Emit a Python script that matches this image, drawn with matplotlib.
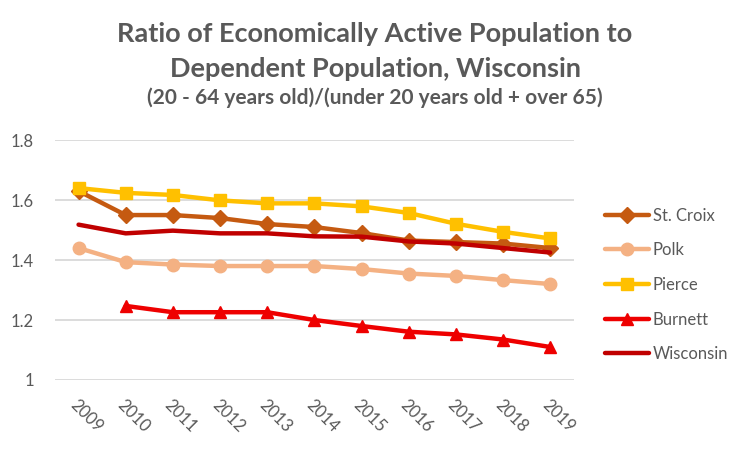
import matplotlib
matplotlib.use("Agg")
import matplotlib.pyplot as plt

years = ["2009", "2010", "2011", "2012", "2013", "2014", "2015", "2016", "2017", "2018", "2019"]
st_croix = [1.63, 1.55, 1.55, 1.54, 1.52, 1.51, 1.49, 1.465, 1.46, 1.455, 1.44]
polk = [1.44, 1.393, 1.385, 1.38, 1.38, 1.38, 1.37, 1.355, 1.347, 1.333, 1.32]
pierce = [1.64, 1.624, 1.617, 1.599, 1.589, 1.589, 1.579, 1.557, 1.521, 1.494, 1.472]
burnett = [None, 1.247, 1.226, 1.226, 1.226, 1.2, 1.18, 1.161, 1.152, 1.135, 1.11]
wisconsin = [1.518, 1.489, 1.498, 1.489, 1.489, 1.479, 1.478, 1.462, 1.455, 1.44, 1.425]

series = [
    ("St. Croix", st_croix, "#C55A11", "D", 8),
    ("Polk", polk, "#F4B183", "o", 9),
    ("Pierce", pierce, "#FFC000", "s", 8),
    ("Burnett", burnett, "#EE0000", "^", 9),
    ("Wisconsin", wisconsin, "#C00000", None, 0),
]

plt.rcParams["font.family"] = ["Lato", "DejaVu Sans"]
fig = plt.figure(figsize=(7.5, 4.49), dpi=100)
ax = fig.add_axes([0.0733, 0.1537, 0.6917, 0.5343])

x = list(range(len(years)))
for name, vals, col, mk, ms in series:
    xs = [xi for xi, v in zip(x, vals) if v is not None]
    ys = [v for v in vals if v is not None]
    ax.plot(xs, ys, color=col, lw=3.2, marker=mk, ms=ms, label=name,
            solid_capstyle="round", solid_joinstyle="round")

ax.set_xlim(-0.5, 10.5)
ax.set_ylim(1.0, 1.8)
ax.set_yticks([1.0, 1.2, 1.4, 1.6, 1.8])
ax.set_yticklabels(["1", "1.2", "1.4", "1.6", "1.8"])
ax.set_xticks(x)
ax.set_xticklabels(years, rotation=-45, ha="left", va="top", rotation_mode="anchor")
ax.tick_params(axis="both", length=0, labelsize=12, colors="#595959")
ax.tick_params(axis="x", pad=12)
ax.tick_params(axis="y", pad=15)
ax.grid(axis="y", color="#D9D9D9", lw=1.3)
ax.set_axisbelow(True)
for s in ax.spines.values():
    s.set_visible(False)

fig.text(0.5, 0.925, "Ratio of Economically Active Population to", ha="center", va="center",
         fontsize=19.5, fontweight="bold", color="#595959")
fig.text(0.5, 0.847, "Dependent Population, Wisconsin", ha="center", va="center",
         fontsize=19.5, fontweight="bold", color="#595959")
fig.text(0.5, 0.783, "(20 - 64 years old)/(under 20 years old + over 65)", ha="center", va="center",
         fontsize=15, fontweight="bold", color="#595959")

leg = fig.legend(loc="upper left", bbox_to_anchor=(0.787, 0.571), frameon=False,
                 fontsize=12, labelcolor="#595959", handlelength=2.6, handletextpad=0.25,
                 labelspacing=1.12)

fig.savefig("out.png", dpi=100)
